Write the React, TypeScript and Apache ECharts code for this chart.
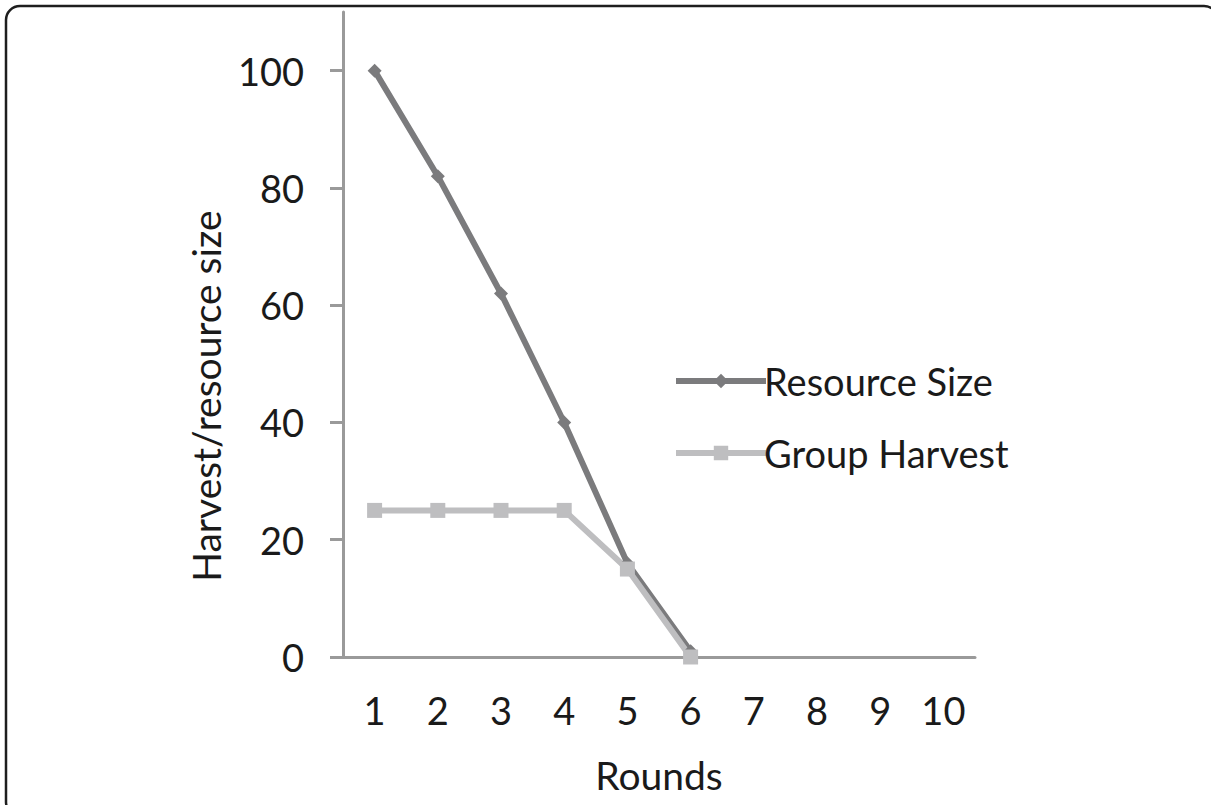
import React, { useEffect, useRef } from "react";
import * as echarts from "echarts";

const rounds = ["1", "2", "3", "4", "5", "6", "7", "8", "9", "10"];
const resourceSize = [100, 82, 62, 40, 16, 1, null, null, null, null];
const groupHarvest = [25, 25, 25, 25, 15, 0, null, null, null, null];
const seriesNames = ["Resource Size", "Group Harvest"];
const yTitle = "Harvest/resource size";

const FONT = "Lato, 'Open Sans', sans-serif";
const TXT = "#1a1a1a";

export default function App() {
  const ref = useRef<HTMLDivElement>(null);
  useEffect(() => {
    const chart = echarts.init(ref.current!, null, { renderer: "svg" });
    chart.setOption({
      animation: false,
      backgroundColor: "#ffffff",
      textStyle: { fontFamily: FONT },
      graphic: [
        {
          type: "rect",
          shape: { x: 6, y: 6, width: 1212, height: 810, r: 14 },
          style: { fill: "none", stroke: "#1e1e1e", lineWidth: 2.5 },
          silent: true,
        },
        {
          type: "text",
          x: 206,
          y: 396,
          rotation: Math.PI / 2,
          style: {
            text: yTitle,
            fontSize: 39,
            fontFamily: FONT,
            fill: TXT,
            align: "center",
            verticalAlign: "middle",
          },
          silent: true,
        },
      ],
      grid: { left: 343, top: 12, width: 632, height: 645 },
      legend: {
        orient: "vertical",
        left: 668,
        top: 356,
        itemWidth: 90,
        itemHeight: 18,
        itemGap: 32,
        data: seriesNames,
        lineStyle: { width: 6 },
        textStyle: { fontSize: 38, lineHeight: 40, color: TXT, fontFamily: FONT, padding: [0, 0, 0, -7] },
      },
      xAxis: {
        type: "category",
        data: rounds,
        boundaryGap: true,
        name: "Rounds",
        nameLocation: "middle",
        nameGap: 98,
        nameTextStyle: { fontSize: 39, color: TXT, fontFamily: FONT },
        axisLine: { lineStyle: { color: "#9a9a9a", width: 3 } },
        axisTick: { show: false },
        axisLabel: { fontSize: 38, color: TXT, margin: 34, fontFamily: FONT },
      },
      yAxis: {
        type: "value",
        min: 0,
        max: 110,
        interval: 20,
        axisLine: { show: true, lineStyle: { color: "#9a9a9a", width: 3 } },
        axisTick: { show: true, length: 13, lineStyle: { color: "#9a9a9a", width: 3 } },
        splitLine: { show: false },
        axisLabel: {
          fontSize: 38,
          color: TXT,
          margin: 39,
          fontFamily: FONT,
          showMaxLabel: false,
        },
      },
      series: [
        {
          name: seriesNames[0],
          type: "line",
          data: resourceSize,
          symbol: "diamond",
          symbolSize: 14,
          lineStyle: { color: "#7b7b7d", width: 6 },
          itemStyle: { color: "#7b7b7d" },
          connectNulls: false,
        },
        {
          name: seriesNames[1],
          type: "line",
          data: groupHarvest,
          symbol: "rect",
          symbolSize: 15,
          lineStyle: { color: "#bebec0", width: 6 },
          itemStyle: { color: "#bebec0" },
          connectNulls: false,
        },
      ],
    });
    return () => chart.dispose();
  }, []);
  return (
    <div
      ref={ref}
      style={{ position: "fixed", left: 0, top: 0, width: 1211, height: 805 }}
    />
  );
}
